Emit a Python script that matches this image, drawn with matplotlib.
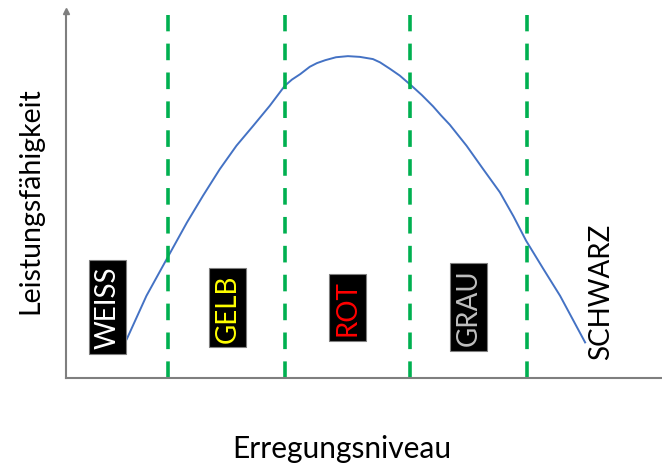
import matplotlib.pyplot as plt

# Leistungskurve (Yerkes-Dodson), Achsen 0..100
curve_x = [10.2, 13.5, 17.2, 20.3, 23.0, 25.8, 28.6, 31.4, 34.2, 36.7,
           37.9, 39.3, 40.9, 42.1, 43.5, 45.3, 47.3, 49.3, 51.5, 52.7,
           54.4, 56.0, 58.0, 59.7, 61.6, 62.9, 64.4, 67.2, 70.0, 72.8,
           75.1, 77.2, 80.1, 82.9, 87.1]
curve_y = [10.6, 22.4, 33.3, 42.4, 49.7, 56.9, 63.3, 68.7, 74.2, 79.6,
           81.3, 82.8, 84.8, 85.8, 86.6, 87.4, 87.7, 87.5, 86.9, 86.0,
           84.2, 82.4, 79.6, 77.1, 74.0, 71.6, 69.0, 63.3, 56.9, 50.6,
           44.0, 37.4, 29.7, 22.4, 9.7]

# Grenzen der Zonen (gruene gestrichelte Linien)
zone_bounds = [17.1, 36.7, 57.7, 77.3]

zone_names = ["WEISS", "GELB", "ROT", "GRAU", "SCHWARZ"]
zone_x = [6.9, 27.1, 47.3, 67.5, 89.8]
zone_y = [19.3, 19.2, 19.2, 19.3, 23.7]
text_colors = ["white", "#FFFF00", "#FF0000", "#BFBFBF", "black"]
box_colors = ["black", "black", "black", "black", None]

fig = plt.figure(figsize=(6.62, 4.64), dpi=100)
ax = fig.add_axes([66 / 662, 85 / 464, 596 / 662, 367 / 464])
plt.rcParams['font.family'] = ['Lato', 'DejaVu Sans']

ax.plot(curve_x, curve_y, color="#4472C4", lw=1.4, solid_joinstyle="round")

for b in zone_bounds:
    ax.plot([b, b], [0, 98.9], color="#00B050", lw=2.6, ls=(0, (4.6, 3.4)))

for name, x, y, tc, bc in zip(zone_names, zone_x, zone_y, text_colors, box_colors):
    box = None
    if bc:
        box = dict(boxstyle="square,pad=0.2", facecolor=bc, edgecolor="#7F7F7F", lw=0.8)
    ax.text(x, y, name, rotation=90, color=tc, fontsize=20, family="Lato",
            ha="center", va="center", bbox=box)

ax.set_xlim(0, 100)
ax.set_ylim(0, 100)
ax.set_xticks([])
ax.set_yticks([])
for s in ["top", "right"]:
    ax.spines[s].set_visible(False)
for s in ["left", "bottom"]:
    ax.spines[s].set_color("#7F7F7F")
    ax.spines[s].set_linewidth(1.5)
ax.plot(0, 1, marker="^", ms=5, color="#7F7F7F", transform=ax.transAxes, clip_on=False)

fig.text(342 / 662, 1 - 449 / 464, "Erregungsniveau", fontsize=21.5, family="Lato",
         ha="center", va="center")
fig.text(30 / 662, 1 - 201 / 464, "Leistungsfähigkeit", fontsize=20.5, family="Lato",
         rotation=90, ha="center", va="center")

fig.savefig("out.png", dpi=100)
